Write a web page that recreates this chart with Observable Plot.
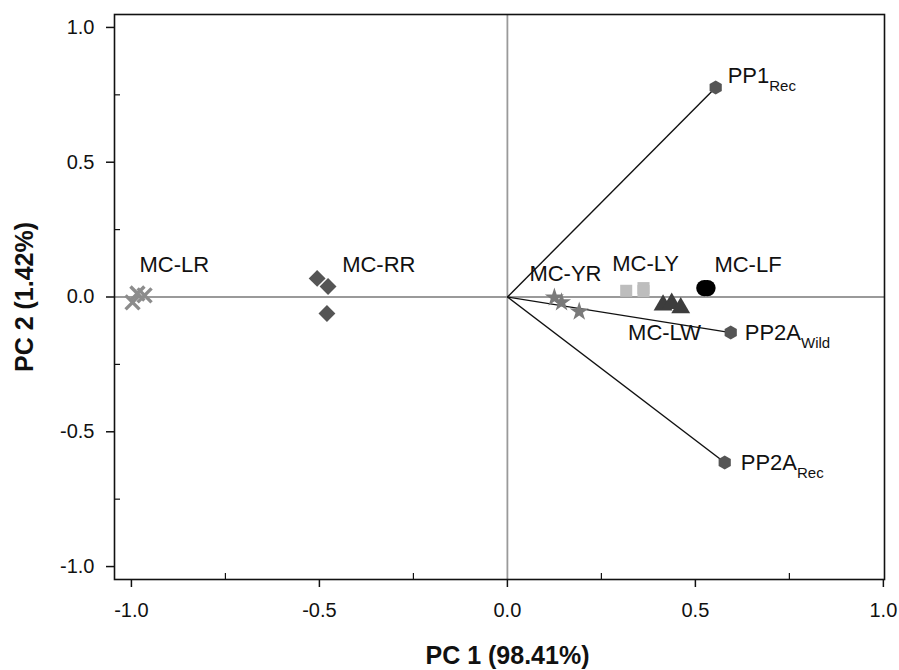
<!DOCTYPE html>
<html>
<head>
<meta charset="utf-8">
<script src="https://cdn.jsdelivr.net/npm/d3@7"></script>
<script src="https://cdn.jsdelivr.net/npm/@observablehq/plot@0.6"></script>
<style>
  html, body { margin: 0; padding: 0; background: #fff; }
  #chart svg { display: block; }
</style>
</head>
<body>
<div id="chart"></div>
<script>
// ---- data ----
const mcLR = [[-0.997, -0.020], [-0.984, 0.013], [-0.965, 0.006]];
const mcRR = [[-0.506, 0.069], [-0.477, 0.039], [-0.480, -0.061]];
const mcYR = [[0.125, -0.002], [0.144, -0.020], [0.191, -0.054]];
const mcLY = [[0.316, 0.023], [0.362, 0.022], [0.362, 0.033]];
const mcLW = [[0.414, -0.030], [0.437, -0.024], [0.461, -0.040]];
const mcLF = [[0.524, 0.033], [0.532, 0.033]];

const vectorNames = ["PP1", "PP2A", "PP2A"];
const vectorSubs = ["Rec", "Wild", "Rec"];
const vectorX = [0.554, 0.594, 0.578];
const vectorY = [0.777, -0.132, -0.614];

const xTicks = [-1.0, -0.5, 0.0, 0.5, 1.0];
const yTicks = [-1.0, -0.5, 0.0, 0.5, 1.0];
const xMinor = [-0.75, -0.25, 0.25, 0.75];
const yMinor = [-0.75, -0.25, 0.25, 0.75];
const xTitle = "PC 1 (98.41%)";
const yTitle = "PC 2 (1.42%)";

// ---- styles / layout ----
const W = 899, H = 670;
const M = {left: 114, right: 15, top: 14, bottom: 91};
const plotW = W - M.left - M.right, plotH = H - M.top - M.bottom;
const FONT = "'Liberation Sans', Arial, Helvetica, sans-serif";
const fmt = d => d.toFixed(1);

const hexagon = {
  draw(context, size) {
    const R = Math.sqrt(size / (3 * Math.sqrt(3) / 2));
    for (let i = 0; i < 6; i++) {
      const a = -Math.PI / 2 + i * Math.PI / 3;
      const px = R * Math.cos(a), py = R * Math.sin(a);
      if (i === 0) context.moveTo(px, py); else context.lineTo(px, py);
    }
    context.closePath();
  }
};

const groups = [
  {name: "MC-LR", pts: mcLR, symbol: "times", fill: "none", stroke: "#8c8c8c", r: 6.4, sw: 3.4, dx: 7, dy: -37},
  {name: "MC-RR", pts: mcRR, symbol: "diamond2", fill: "#555555", stroke: "none", r: 7.6, sw: 0, dx: 25, dy: -13},
  {name: "MC-YR", pts: mcYR, symbol: "star", fill: "#7a7a7a", stroke: "none", r: 6, sw: 0, dx: -25, dy: -24},
  {name: "MC-LY", pts: mcLY, symbol: "square", fill: "#bdbdbd", stroke: "none", r: 6.8, sw: 0, dx: -14, dy: -27},
  {name: "MC-LW", pts: mcLW, symbol: "triangle", fill: "#3d3d3d", stroke: "none", r: 7, sw: 0, dx: -35, dy: 28},
  {name: "MC-LF", pts: mcLF, symbol: "circle", fill: "#000000", stroke: "none", r: 8.2, sw: 0, dx: 10, dy: -23}
];

const vectors = vectorNames.map((n, i) => ({name: n, sub: vectorSubs[i], x: vectorX[i], y: vectorY[i], key: "vector-label-" + i}));
const vecLabelOffsets = [{dx: 12, dy: -12}, {dx: 14, dy: 0}, {dx: 16, dy: 0}];

const marks = [
  Plot.ruleY([0], {stroke: "#9a9a9a", strokeWidth: 1.8}),
  Plot.ruleX([0], {stroke: "#9a9a9a", strokeWidth: 1.8}),
  Plot.link(vectors, {x1: () => 0, y1: () => 0, x2: "x", y2: "y", stroke: "#111", strokeWidth: 1.4}),
  Plot.dot(vectors, {x: "x", y: "y", symbol: hexagon, r: 6.4, fill: "#555555", stroke: "none"}),
];

for (const g of groups) {
  marks.push(Plot.dot(g.pts, {
    x: d => d[0], y: d => d[1], symbol: g.symbol, r: g.r,
    fill: g.fill, stroke: g.stroke, strokeWidth: g.sw
  }));
  marks.push(Plot.text([g], {
    x: d => d.pts[0][0], y: d => d.pts[0][1], text: "name",
    dx: g.dx, dy: g.dy, textAnchor: "start", fontSize: 22, fill: "#111"
  }));
}

vectors.forEach((v, i) => {
  marks.push(Plot.text([v], {
    x: "x", y: "y", text: "name", dx: vecLabelOffsets[i].dx, dy: vecLabelOffsets[i].dy,
    textAnchor: "start", fontSize: 22, fill: "#111", ariaLabel: "key"
  }));
});

marks.push(
  Plot.tickX(xMinor, {x: d => d, insetTop: plotH - 6, stroke: "#111", strokeWidth: 1.2}),
  Plot.tickY(yMinor, {y: d => d, insetRight: plotW - 6, stroke: "#111", strokeWidth: 1.2}),
  Plot.axisX(xTicks, {tickSize: 8, tickPadding: 15, tickFormat: fmt, fontSize: 20, stroke: "#111", strokeWidth: 1.5, fill: "#111", label: null}),
  Plot.axisY(yTicks, {tickSize: 8, tickPadding: 12, tickFormat: fmt, fontSize: 20, stroke: "#111", strokeWidth: 1.5, fill: "#111", label: null}),
  Plot.frame({stroke: "#111", strokeWidth: 1.6}),
  Plot.text([xTitle], {frameAnchor: "bottom", dx: 8, dy: 76, lineAnchor: "middle", textAnchor: "middle", text: d => d, fontSize: 25, fontWeight: "bold", fill: "#111"}),
  Plot.text([yTitle], {frameAnchor: "left", dx: -90, lineAnchor: "middle", textAnchor: "middle", text: d => d, rotate: -90, fontSize: 25, fontWeight: "bold", fill: "#111"})
);

const chart = Plot.plot({
  width: W, height: H,
  marginLeft: M.left, marginRight: M.right, marginTop: M.top, marginBottom: M.bottom,
  style: {fontFamily: FONT, background: "#fff", overflow: "visible"},
  x: {domain: [-1.045, 1.003]},
  y: {domain: [-1.048, 1.048]},
  marks
});

// subscripts for the vector labels
vectors.forEach(v => {
  const t = chart.querySelector('text[aria-label="' + v.key + '"]');
  if (t) d3.select(t).append("tspan").attr("dy", 8).attr("font-size", 15).text(v.sub);
});

document.getElementById("chart").appendChild(chart);
</script>
</body>
</html>
